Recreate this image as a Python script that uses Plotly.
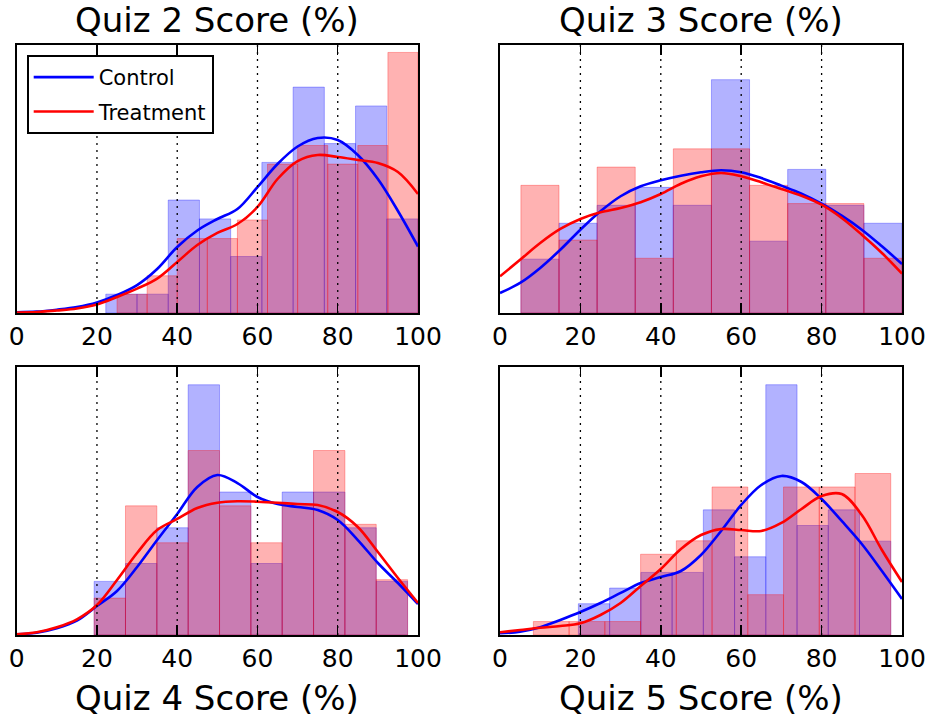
import plotly.graph_objects as go

# ---------------- data ----------------
TITLES = ["Quiz 2 Score (%)", "Quiz 3 Score (%)", "Quiz 4 Score (%)", "Quiz 5 Score (%)"]
SERIES = ["Control", "Treatment"]
X_TICKS = [0, 20, 40, 60, 80, 100]
GRID_X = [20, 40, 60, 80]
Y_MAX = [0.030, 0.025, 0.030, 0.035]

# histogram data ranges (min, max) and counts per bin (10 bins)
q2_ctrl_range = (22.2, 100.0)
q2_ctrl_counts = [1, 1, 6, 5, 3, 8, 12, 9, 11, 5]
q2_treat_range = (25.0, 100.0)
q2_treat_counts = [1, 2, 4, 4, 5, 8, 9, 8, 9, 14]

q3_ctrl_range = (5.2, 100.0)
q3_ctrl_counts = [3, 5, 6, 7, 6, 13, 4, 8, 6, 5]
q3_treat_range = (5.2, 100.0)
q3_treat_counts = [7, 4, 8, 3, 9, 9, 7, 6, 6, 3]

q4_ctrl_range = (19.3, 97.4)
q4_ctrl_counts = [3, 4, 6, 14, 8, 4, 8, 8, 6, 3]
q4_treat_range = (19.3, 97.4)
q4_treat_counts = [2, 7, 5, 10, 7, 5, 7, 10, 6, 3]

q5_ctrl_range = (19.5, 97.2)
q5_ctrl_counts = [2, 3, 4, 4, 8, 5, 16, 7, 8, 6]
q5_treat_range = (8.3, 97.2)
q5_treat_counts = [1, 1, 1, 6, 7, 11, 3, 11, 11, 12]

# KDE curves (density) sampled at KDE_X
KDE_X = [0, 5, 10, 15, 20, 25, 30, 35, 40, 45, 50, 55, 60, 65, 70, 75, 80, 85, 90, 95, 100]

q2_ctrl_kde = [0.00008, 0.00015, 0.00037, 0.00067, 0.00118, 0.00201, 0.00313, 0.00493, 0.00739, 0.00924,
               0.01052, 0.01164, 0.01410, 0.01668, 0.01864, 0.01959, 0.01937, 0.01769, 0.01500, 0.01142, 0.00744]
q2_treat_kde = [0.00006, 0.00011, 0.00028, 0.00050, 0.00095, 0.00179, 0.00273, 0.00385, 0.00571, 0.00761,
                0.00896, 0.00996, 0.01187, 0.01500, 0.01701, 0.01769, 0.01746, 0.01713, 0.01679, 0.01578, 0.01332]

q3_ctrl_kde = [0.00187, 0.00280, 0.00420, 0.00590, 0.00777, 0.00949, 0.01089, 0.01182, 0.01238, 0.01281,
               0.01313, 0.01331, 0.01313, 0.01259, 0.01188, 0.01113, 0.01020, 0.00908, 0.00777, 0.00622, 0.00457]
q3_treat_kde = [0.00342, 0.00497, 0.00653, 0.00784, 0.00877, 0.00939, 0.00979, 0.01033, 0.01110, 0.01206,
                0.01275, 0.01306, 0.01275, 0.01219, 0.01157, 0.01094, 0.01010, 0.00886, 0.00730, 0.00560, 0.00367]

q4_ctrl_kde = [0.00008, 0.00026, 0.00075, 0.00160, 0.00325, 0.00493, 0.00761, 0.01063, 0.01355, 0.01657,
               0.01791, 0.01701, 0.01545, 0.01466, 0.01433, 0.01399, 0.01287, 0.01063, 0.00806, 0.00582, 0.00347]
q4_treat_kde = [0.00008, 0.00030, 0.00086, 0.00176, 0.00336, 0.00616, 0.00918, 0.01175, 0.01299, 0.01422,
                0.01481, 0.01497, 0.01492, 0.01481, 0.01466, 0.01455, 0.01377, 0.01209, 0.00929, 0.00638, 0.00358]

q5_ctrl_kde = [0.00022, 0.00043, 0.00101, 0.00196, 0.00300, 0.00418, 0.00549, 0.00679, 0.00757, 0.00836,
               0.01045, 0.01358, 0.01698, 0.01959, 0.02077, 0.01998, 0.01776, 0.01489, 0.01188, 0.00836, 0.00470]
q5_treat_kde = [0.00035, 0.00065, 0.00095, 0.00118, 0.00153, 0.00261, 0.00418, 0.00640, 0.00862, 0.01123,
                0.01306, 0.01384, 0.01371, 0.01358, 0.01463, 0.01646, 0.01815, 0.01841, 0.01567, 0.01110, 0.00692]

PANELS = [
    (q2_ctrl_range, q2_ctrl_counts, q2_treat_range, q2_treat_counts, q2_ctrl_kde, q2_treat_kde),
    (q3_ctrl_range, q3_ctrl_counts, q3_treat_range, q3_treat_counts, q3_ctrl_kde, q3_treat_kde),
    (q4_ctrl_range, q4_ctrl_counts, q4_treat_range, q4_treat_counts, q4_ctrl_kde, q4_treat_kde),
    (q5_ctrl_range, q5_ctrl_counts, q5_treat_range, q5_treat_counts, q5_ctrl_kde, q5_treat_kde),
]

# ---------------- styling / layout ----------------
W, H = 933, 719
FONT = "DejaVu Sans"
X_DOM = [[16.7 / W, 418 / W], [500 / W, 902 / W], [16.7 / W, 418 / W], [500 / W, 902 / W]]
Y_DOM = [[1 - 313 / H, 1 - 45 / H], [1 - 313 / H, 1 - 45 / H],
         [1 - 635 / H, 1 - 367 / H], [1 - 635 / H, 1 - 367 / H]]
FILL = {"Control": "rgba(0,0,255,0.3)", "Treatment": "rgba(255,0,0,0.3)"}
EDGE = {"Control": "rgba(0,0,255,0.3)", "Treatment": "rgba(255,0,0,0.3)"}
LINE = {"Control": "#0000ff", "Treatment": "#ff0000"}

fig = go.Figure()


def hist_trace(rng, counts, name, xa, ya):
    lo, hi = rng
    nb = len(counts)
    w = (hi - lo) / nb
    n = sum(counts)
    centers = [lo + w * (k + 0.5) for k in range(nb)]
    dens = [c / (n * w) for c in counts]
    return go.Bar(x=centers, y=dens, width=[w] * nb, xaxis=xa, yaxis=ya,
                  marker=dict(color=FILL[name], line=dict(color=EDGE[name], width=1)),
                  showlegend=False, hoverinfo="skip")


for i, (cr, cc, tr, tc, ck, tk) in enumerate(PANELS):
    xa = "x" if i == 0 else f"x{i + 1}"
    ya = "y" if i == 0 else f"y{i + 1}"
    fig.add_trace(hist_trace(cr, cc, "Control", xa, ya))
    fig.add_trace(hist_trace(tr, tc, "Treatment", xa, ya))
    for name, kde in (("Control", ck), ("Treatment", tk)):
        fig.add_trace(go.Scatter(x=KDE_X, y=kde, mode="lines", name=name, xaxis=xa, yaxis=ya,
                                 line=dict(color=LINE[name], width=2.6, shape="spline", smoothing=1.0),
                                 showlegend=(i == 0), legendgroup=name, hoverinfo="skip"))
    for t in GRID_X:
        fig.add_shape(type="line", xref=xa, yref=f"{ya} domain", x0=t, x1=t, y0=0, y1=1,
                      line=dict(color="black", width=1.3, dash="2px,5px"), layer="above")
    suffix = "" if i == 0 else str(i + 1)
    fig.layout["xaxis" + suffix] = dict(
        domain=X_DOM[i], anchor=ya, range=[0, 100], tickvals=X_TICKS,
        ticktext=[str(v) for v in X_TICKS], ticks="inside", ticklen=10, tickwidth=1.5,
        tickcolor="black", showline=True, linecolor="black", linewidth=2, mirror="ticks",
        showgrid=False, zeroline=False, tickfont=dict(family=FONT, size=25, color="black"),
        automargin=False, fixedrange=True)
    fig.layout["yaxis" + suffix] = dict(
        domain=Y_DOM[i], anchor=xa, range=[0, Y_MAX[i]], showticklabels=False, ticks="",
        showline=True, linecolor="black", linewidth=2, mirror=True, showgrid=False,
        zeroline=False, automargin=False, fixedrange=True)
    top = i < 2
    fig.add_annotation(text=TITLES[i], xref=f"{xa} domain", x=0.5, yref="paper",
                       y=(1 - 20 / H) if top else (1 - 698 / H), xanchor="center", yanchor="middle",
                       showarrow=False, font=dict(family=FONT, size=34, color="black"))

fig.update_layout(
    width=W, height=H, margin=dict(l=0, r=0, t=0, b=0),
    paper_bgcolor="white", plot_bgcolor="white", barmode="overlay",
    font=dict(family=FONT, color="black"),
    legend=dict(x=26.7 / W, y=1 - 55 / H, xanchor="left", yanchor="top",
                bgcolor="white", bordercolor="black", borderwidth=2, itemwidth=60,
                font=dict(family=FONT, size=21, color="black"), tracegroupgap=4),
)

fig.write_html("out.html", config={"displayModeBar": False, "staticPlot": True},
               post_script="document.body.style.margin='0px';")
